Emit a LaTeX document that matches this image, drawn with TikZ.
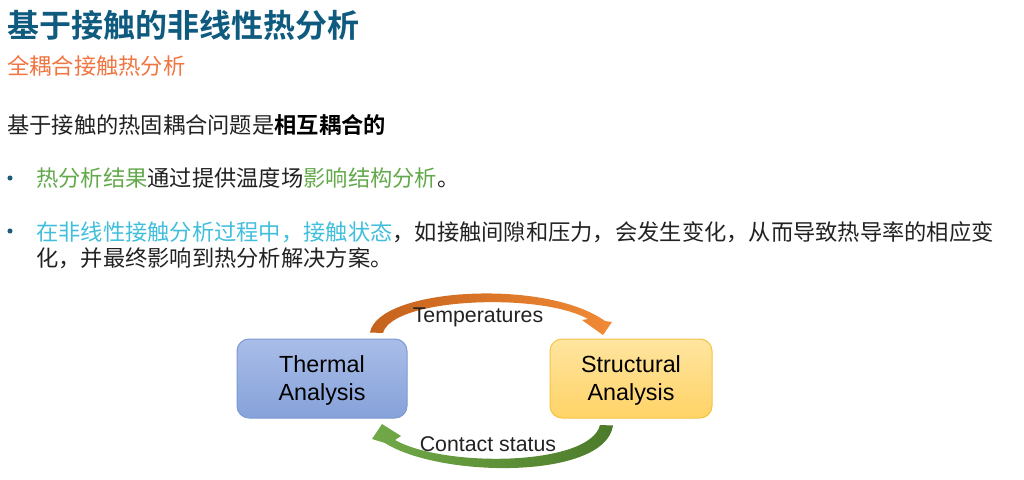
\documentclass[tikz,border=0pt]{standalone}
\usepackage{fontspec}
\setmainfont{Noto Sans CJK SC}[BoldFont={Noto Sans CJK SC Bold}]
\newfontfamily\latinfont{Liberation Sans}
\usetikzlibrary{positioning, calc}

\definecolor{titleblue}{HTML}{0F5A7F}
\definecolor{suborange}{HTML}{F07541}
\definecolor{textgray}{HTML}{222222}
\definecolor{kgreen}{HTML}{62A94B}
\definecolor{kcyan}{HTML}{41BEDB}
\definecolor{bulletblue}{HTML}{1F5C7A}
\definecolor{thermtop}{HTML}{A9BDE8}
\definecolor{thermbot}{HTML}{86A2DA}
\definecolor{thermline}{HTML}{7C99D3}
\definecolor{structtop}{HTML}{FFE5A0}
\definecolor{structbot}{HTML}{FFD366}
\definecolor{structline}{HTML}{F5C446}
\definecolor{orangedark}{HTML}{C5621C}
\definecolor{orangelight}{HTML}{F08A35}
\definecolor{greenlight}{HTML}{72AA48}
\definecolor{greendark}{HTML}{4C7A2A}

\tikzset{
  textline/.style={anchor=base west, inner sep=0pt, text=textgray, font=\fontsize{16.7}{19.5}\selectfont},
  dotmark/.style={circle, fill=bulletblue, inner sep=0pt, minimum size=3.8pt},
  anabox/.style={draw, line width=0.75pt, rounded corners=9pt, minimum height=59.25pt, align=center, text depth=0pt, text=black, font=\latinfont\fontsize{17.5}{21}\selectfont},
  flowlabel/.style={inner sep=0pt, text=textgray, font=\latinfont\fontsize{16}{19}\selectfont}
}

\begin{document}
\begin{tikzpicture}[x=0.75pt, y=-0.75pt]
    \useasboundingbox (0,0) rectangle (1024,479);

    % Headings
    \node[textline, text=titleblue, font=\bfseries\fontsize{24}{28}\selectfont] (title) at (7,37) {基于接触的非线性热分析};
    \node[textline, text=suborange] (subtitle) at (7,74) {全耦合接触热分析};

    % Body text
    \node[textline] (intro) at (7,133) {基于接触的热固耦合问题是\textbf{\color{black}相互耦合的}};

    \node[dotmark] (dot1) at (10,178) {};
    \node[textline] (item1) at (36,186) {{\color{kgreen}热分析结果}通过提供温度场{\color{kgreen}影响结构分析}。};

    \node[dotmark] (dot2) at (10,231) {};
    \node[textline] (item2a) at (36,240) {{\color{kcyan}在非线性接触分析过程中，接触状态}，如接触间隙和压力，会发生变化，从而导致热导率的相应变};
    \node[textline] (item2b) at (36,266) {化，并最终影响到热分析解决方案。};

    % Analysis boxes
    \node[anabox, minimum width=127.5pt, top color=thermtop, bottom color=thermbot, draw=thermline] (thermal) at (322,378.5) {Thermal\\Analysis};
    \node[anabox, minimum width=121.5pt, top color=structtop, bottom color=structbot, draw=structline] (structural) at (631,378.5) {Structural\\Analysis};

    % Coupling arrows
    \path (thermal.north) ++(48,-6) coordinate (temp_start);
    \path (structural.south) ++(-18,7) coordinate (contact_start);

    \shade[left color=orangedark, right color=orangelight]
        (temp_start) .. controls (378,288) and (545,278) .. (605,321)
        -- (612,322) -- (603,335) -- (582,320) -- (588,319)
        .. controls (540,292) and (392,298) .. (383,333) -- cycle;

    \shade[left color=greenlight, right color=greendark]
        (contact_start) .. controls (605,480) and (440,478) .. (385,443)
        -- (372,439) -- (382,424) -- (401,436) -- (395,440)
        .. controls (445,468) and (590,466) .. (600,425) -- cycle;

    % Arrow labels
    \node[flowlabel] (temps) at (478,317) {Temperatures};
    \node[flowlabel] (contact) at (488,444) {Contact status};

\end{tikzpicture}
\end{document}
